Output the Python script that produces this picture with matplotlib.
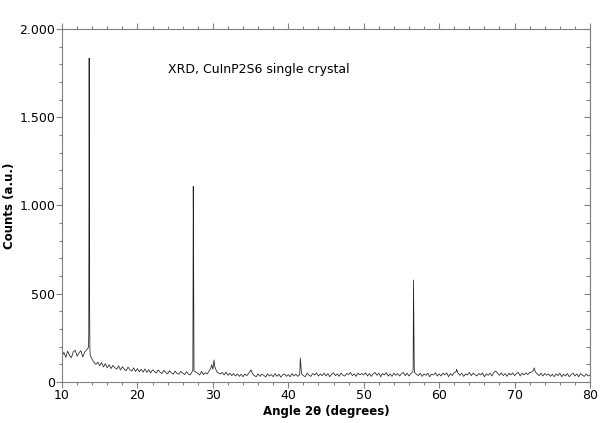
import numpy as np
import matplotlib
matplotlib.use('Agg')
import matplotlib.pyplot as plt
from matplotlib.ticker import MultipleLocator, FuncFormatter

# background counts, 0.25 degree steps from 10 to 80
bg_counts = [
    145, 168, 140, 175, 150, 138, 172, 180, 146, 165, 178, 142, 168, 182, 195, 150, 128, 112, 100, 112,
    92, 110, 85, 104, 80, 98, 76, 94, 82, 72, 92, 68, 86, 74, 64, 84, 70, 62, 80, 60,
    76, 58, 72, 56, 74, 54, 70, 52, 68, 60, 50, 68, 56, 48, 66, 54, 46, 64, 52, 44,
    62, 48, 44, 60, 50, 42, 58, 46, 40, 58, 62, 56, 48, 40, 60, 42, 52, 46, 62, 82,
    72, 88, 60, 50, 46, 54, 40, 56, 38, 50, 36, 48, 34, 46, 32, 44, 30, 46, 36, 50,
    64, 48, 36, 30, 46, 32, 44, 38, 28, 46, 34, 42, 30, 48, 32, 44, 28, 40, 46, 32,
    42, 30, 48, 34, 44, 32, 40, 48, 36, 30, 50, 38, 32, 48, 40, 52, 34, 46, 36, 50,
    34, 48, 30, 44, 52, 36, 46, 32, 50, 38, 34, 48, 42, 54, 36, 46, 32, 50, 40, 48,
    40, 52, 34, 48, 32, 46, 54, 38, 50, 30, 48, 40, 52, 34, 46, 32, 50, 38, 48, 34,
    46, 54, 36, 50, 34, 48, 58, 52, 44, 36, 50, 32, 46, 38, 50, 30, 44, 40, 52, 34,
    46, 34, 50, 40, 52, 30, 48, 36, 54, 58, 50, 38, 50, 32, 46, 40, 54, 36, 50, 42,
    34, 48, 40, 52, 30, 46, 38, 50, 34, 54, 62, 50, 38, 52, 36, 48, 32, 50, 40, 52,
    36, 48, 54, 34, 50, 40, 52, 42, 54, 56, 66, 58, 46, 36, 50, 34, 48, 38, 46, 32,
    44, 30, 46, 36, 50, 30, 44, 34, 48, 30, 42, 50, 34, 46, 30, 48, 38, 32, 46, 34,
    40,
]
bg_angles = np.linspace(10, 80, len(bg_counts))

# sharp reflections
peak_angles = [13.55, 13.60, 13.65, 13.70, 27.35, 27.40, 27.45, 29.85, 30.15,
               35.05, 41.55, 41.60, 41.65, 56.55, 56.60, 56.65, 56.70, 62.30, 72.60]
peak_counts = [260, 1835, 520, 180, 70, 1108, 678, 98, 125,
               68, 80, 135, 105, 70, 578, 318, 80, 72, 80]

angles = np.concatenate([bg_angles, peak_angles])
counts = np.concatenate([bg_counts, peak_counts])
order = np.argsort(angles)
angles = angles[order]
counts = counts[order]

fig = plt.figure(figsize=(6, 4.23), dpi=100)
ax = fig.add_axes([62 / 600, 1 - 382 / 423, 528 / 600, 353 / 423])

ax.plot(angles, counts, color='#222222', lw=0.55)

ax.set_xlim(10, 80)
ax.set_ylim(0, 2000)

ax.xaxis.set_major_locator(MultipleLocator(10))
ax.xaxis.set_minor_locator(MultipleLocator(2))
ax.yaxis.set_major_locator(MultipleLocator(500))
ax.yaxis.set_minor_locator(MultipleLocator(100))


def thousands(v, pos):
    return f'{int(v):,}'.replace(',', '.')


ax.yaxis.set_major_formatter(FuncFormatter(thousands))

for s in ax.spines.values():
    s.set_color('#808080')
    s.set_linewidth(0.8)

ax.tick_params(which='both', direction='out', color='#808080', width=0.8,
               labelsize=9, top=True, right=False, pad=1)
ax.tick_params(which='major', length=4)
ax.tick_params(which='minor', length=2.5)

# right side ticks point inward
sec = ax.secondary_yaxis('right')
sec.yaxis.set_major_locator(MultipleLocator(500))
sec.yaxis.set_minor_locator(MultipleLocator(100))
sec.tick_params(which='both', direction='in', color='#808080', width=0.8,
                labelright=False)
sec.tick_params(which='major', length=4)
sec.tick_params(which='minor', length=3)
sec.spines['right'].set_color('#808080')

ax.set_xlabel('Angle 2θ (degrees)', fontsize=8.5, fontweight='bold', labelpad=2)
ax.set_ylabel('Counts (a.u.)', fontsize=8.5, fontweight='bold')
ax.yaxis.set_label_coords(-0.087, 0.5)

ax.text(24.0, 1773, 'XRD, CuInP2S6 single crystal', fontsize=9, va='center', ha='left')

fig.savefig('out.png', dpi=100)
